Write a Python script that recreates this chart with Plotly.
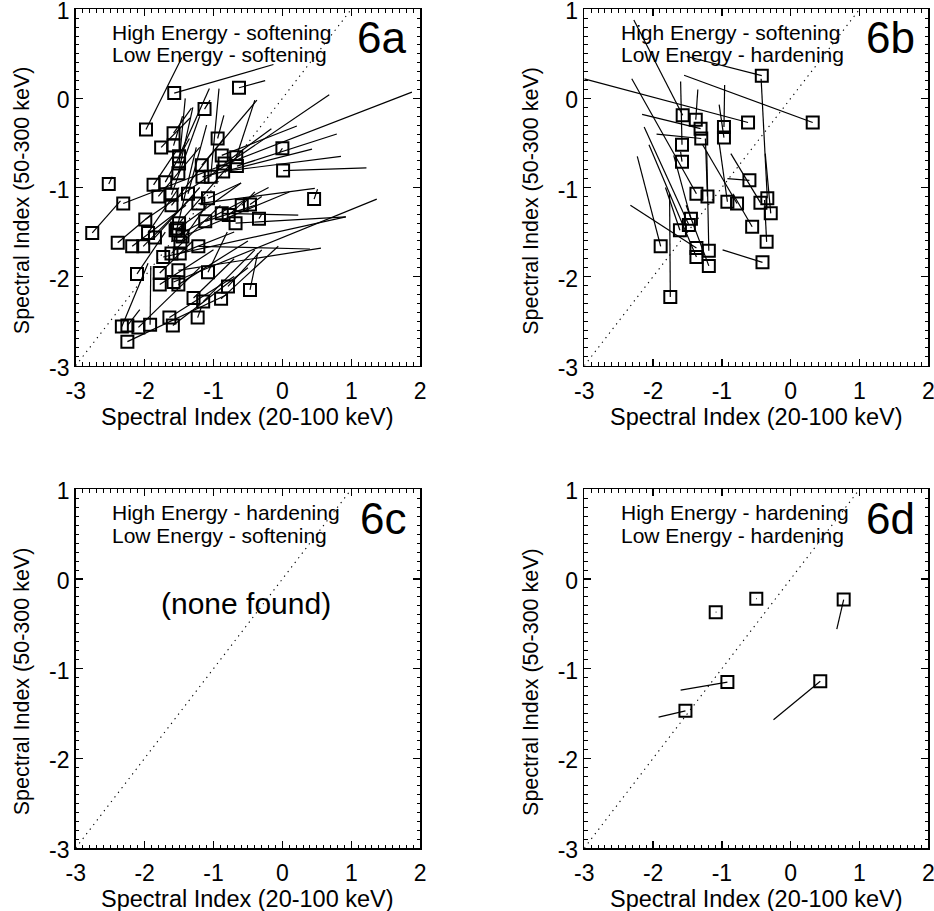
import plotly.graph_objects as go

FONT = "Liberation Sans, Arial, Helvetica, sans-serif"

# ---------------- tick labels & texts ----------------
x_tick_vals = [-3, -2, -1, 0, 1, 2]
x_tick_text = ["-3", "-2", "-1", "0", "1", "2"]
y_tick_vals = [-3, -2, -1, 0, 1]
y_tick_text = ["-3", "-2", "-1", "0", "1"]

panel_labels = ["6a", "6b", "6c", "6d"]
high_labels = ["High Energy - softening", "High Energy - softening",
               "High Energy - hardening", "High Energy - hardening"]
low_labels = ["Low Energy - softening", "Low Energy - hardening",
              "Low Energy - softening", "Low Energy - hardening"]
x_title = "Spectral Index (20-100 keV)"
y_title = "Spectral Index (50-300 keV)"
none_text = "(none found)"

# ---------------- panel 6a data (square = start, line to end) ----------------
a_start_x = [-1.57, -0.63, -1.98, -1.13, -1.58, -0.94, -1.76, -1.58, -1.50, -0.88,
             -0.67, -0.66, -1.50, -1.17, -0.84, -1.51, -1.16, -0.86, -1.04, -1.70,
             -1.87, -2.52, 0.00, 0.01, 0.46, -2.31, -2.76, -1.99, -1.80, -1.61,
             -1.61, -1.37, -1.22, -1.08, -0.88, -0.59, -0.68, -0.78, -0.34, -0.47,
             -1.53, -1.51, -1.85, -1.95, -2.39, -2.18, -2.02, -1.22, -1.73, -1.61,
             -1.49, -2.11, -1.78, -1.51, -1.08, -1.78, -1.58, -1.51, -1.29, -1.15,
             -0.89, -0.79, -0.47, -2.33, -2.25, -2.09, -1.92, -1.64, -1.59, -1.23,
             -2.25, -1.50, -1.45, -1.55, -1.48, -1.12]
a_start_y = [0.06, 0.12, -0.35, -0.12, -0.39, -0.45, -0.55, -0.53, -0.65, -0.64,
             -0.66, -0.76, -0.73, -0.75, -0.73, -0.84, -0.88, -0.82, -0.88, -0.94,
             -0.97, -0.96, -0.56, -0.81, -1.13, -1.18, -1.51, -1.36, -1.10, -1.08,
             -1.20, -1.07, -1.18, -1.12, -1.29, -1.20, -1.40, -1.31, -1.35, -1.19,
             -1.46, -1.53, -1.56, -1.51, -1.62, -1.66, -1.66, -1.66, -1.78, -1.74,
             -1.74, -1.97, -1.96, -1.93, -1.95, -2.09, -2.06, -2.09, -2.24, -2.28,
             -2.25, -2.11, -2.15, -2.56, -2.55, -2.57, -2.54, -2.46, -2.55, -2.46,
             -2.73, -1.40, -1.55, -1.48, -1.62, -1.38]
a_end_x = [-0.13, -0.25, -1.46, -1.05, -1.32, -0.85, -1.34, -1.45, -1.06, 0.21,
           -0.40, 0.79, -1.41, -0.37, -0.16, -1.30, 0.43, 0.85, -0.92, -1.35,
           -1.55, -2.47, -0.05, 1.22, 0.51, 1.88, -2.35, 0.68, -1.20, -1.20,
           -0.85, -1.10, 0.47, -0.60, 0.23, -0.40, 0.92, -0.55, -0.30, -0.30,
           -1.25, -0.20, -1.20, -1.50, -1.90, -1.40, -1.30, 0.40, 0.92, -0.90,
           -0.70, -1.70, -1.30, 0.56, -0.80, -1.00, 1.37, -0.50, -0.70, -0.40,
           -0.06, -0.30, -0.36, -1.95, -2.07, -1.20, -1.91, -0.70, -0.50, -1.18,
           -0.80, -0.60, 0.10, -0.60, -1.10, -0.40]
a_end_y = [0.38, 0.20, 0.46, -0.02, -0.11, -0.19, -0.22, -0.20, 0.11, -0.31,
           -0.02, -0.40, 0.00, -0.02, -0.34, -0.10, -0.57, -0.65, 0.11, -0.45,
           -0.60, -0.88, -0.62, -0.78, -1.02, 0.07, -1.15, 0.04, -0.55, -0.20,
           -0.45, -0.30, -1.01, -0.95, -1.31, -1.05, -1.33, -1.15, -1.30, -1.10,
           -0.55, -1.00, -1.00, -1.00, -1.30, -1.20, -1.10, -1.69, -1.33, -1.20,
           -1.50, -1.50, -1.60, -1.68, -1.50, -1.70, -1.13, -1.60, -1.80, -1.70,
           -1.66, -1.70, -1.74, -1.85, -2.37, -1.90, -1.88, -2.00, -1.90, -2.35,
           -2.20, -0.60, -1.05, -0.95, -1.20, -1.20]

# ---------------- panel 6b data ----------------
b_start_x = [-0.42, 0.32, -0.62, -1.57, -1.38, -1.31, -1.30, -0.97, -0.97, -1.58,
             -1.58, -1.37, -1.21, -0.92, -0.78, -0.60, -0.56, -0.44, -0.29, -0.35,
             -0.41, -0.34, -1.45, -1.48, -1.61, -1.89, -1.37, -1.37, -1.19, -1.19,
             -1.75]
b_start_y = [0.255, -0.27, -0.27, -0.19, -0.24, -0.34, -0.45, -0.32, -0.44, -0.52,
             -0.71, -1.07, -1.10, -1.16, -1.18, -0.92, -1.44, -1.17, -1.29, -1.61,
             -1.84, -1.12, -1.35, -1.42, -1.48, -1.66, -1.68, -1.78, -1.71, -1.88,
             -2.23]
b_end_x = [-1.51, -1.55, -3.00, -2.28, -1.35, -2.16, -1.95, -0.96, -1.04, -1.60,
           -1.60, -2.31, -1.24, -1.04, -1.28, -0.92, -0.84, -0.87, -0.37, -0.38,
           -0.99, -0.43, -1.70, -2.13, -1.82, -2.23, -2.33, -2.06, -1.22, -1.52,
           -1.76]
b_end_y = [0.47, 0.26, 0.22, 0.88, 0.10, -0.18, -0.40, 0.15, -0.07, 0.19,
           -0.60, 0.22, -0.45, -0.50, -0.52, -0.90, -1.07, -0.62, -0.62, -1.14,
           -1.70, 0.22, -0.64, -0.32, -1.00, -0.65, -1.20, -0.52, -0.60, -1.20,
           -1.07]

# ---------------- panel 6c data (none found) ----------------
c_start_x, c_start_y, c_end_x, c_end_y = [], [], [], []

# ---------------- panel 6d data ----------------
d_start_x = [-1.09, -0.50, 0.77, -0.92, -1.53, 0.43]
d_start_y = [-0.37, -0.22, -0.23, -1.15, -1.47, -1.14]
d_end_x = [-1.08, -0.49, 0.67, -1.60, -1.92, -0.25]
d_end_y = [-0.37, -0.22, -0.56, -1.24, -1.54, -1.57]

panels = [
    (a_start_x, a_start_y, a_end_x, a_end_y),
    (b_start_x, b_start_y, b_end_x, b_end_y),
    (c_start_x, c_start_y, c_end_x, c_end_y),
    (d_start_x, d_start_y, d_end_x, d_end_y),
]

# ---------------- layout geometry (page pixels) ----------------
W, H = 934, 911
col_px = [(75.7, 420.2), (584.3, 928.3)]
row_px = [(9.3, 365.7), (489.3, 848.0)]


def fx(p):
    return p / W


def fy(p):
    return 1 - p / H


fig = go.Figure()


def segments(x0, y0, x1, y1):
    xs, ys = [], []
    for a, b, c, d in zip(x0, y0, x1, y1):
        xs += [a, c, None]
        ys += [b, d, None]
    return xs, ys


def ax_id(letter, k):
    return letter if k == 1 else f"{letter}{k}"


def ax_key(letter, k):
    return f"{letter}axis" if k == 1 else f"{letter}axis{k}"


x_minor = [round(-3 + 0.1 * k, 1) for k in range(51) if k % 10 != 0]
y_minor = [round(-3 + 0.1 * k, 1) for k in range(41) if k % 10 != 0]

MAJOR_LEN, MINOR_LEN = 7, 3.5
layout_axes = {}

for i, (sx, sy, ex, ey) in enumerate(panels):
    n = i + 1
    xa, ya = ax_id("x", n), ax_id("y", n)
    # diagonal y = x
    fig.add_trace(go.Scatter(x=[-3, 1], y=[-3, 1], mode="lines",
                             line=dict(color="black", width=1.1, dash="1.3px,4.5px"),
                             xaxis=xa, yaxis=ya, showlegend=False, hoverinfo="skip"))
    if sx:
        lx, ly = segments(sx, sy, ex, ey)
        fig.add_trace(go.Scatter(x=lx, y=ly, mode="lines",
                                 line=dict(color="black", width=1.2),
                                 xaxis=xa, yaxis=ya, showlegend=False))
        fig.add_trace(go.Scatter(x=sx, y=sy, mode="markers",
                                 marker=dict(symbol="square-open", size=12, color="black",
                                             line=dict(width=2, color="black")),
                                 xaxis=xa, yaxis=ya, showlegend=False))

    c, r = i % 2, i // 2
    xd = [fx(col_px[c][0]), fx(col_px[c][1])]
    yd = [fy(row_px[r][1]), fy(row_px[r][0])]

    base = dict(showgrid=False, zeroline=False, automargin=False, ticks="inside",
                tickcolor="black", fixedrange=True)
    layout_axes[ax_key("x", n)] = dict(
        base, domain=xd, range=[-3, 2], anchor=ya, side="bottom",
        showline=True, linecolor="black", linewidth=1.6, mirror=True,
        tickmode="array", tickvals=x_tick_vals, ticktext=x_tick_text,
        ticklen=MAJOR_LEN, tickwidth=1.3, ticklabelstandoff=4, ticklabeloverflow="allow",
        tickfont=dict(family=FONT, size=23, color="black"))
    layout_axes[ax_key("y", n)] = dict(
        base, domain=yd, range=[-3, 1], anchor=xa, side="left",
        showline=True, linecolor="black", linewidth=1.6, mirror=True,
        tickmode="array", tickvals=y_tick_vals, ticktext=y_tick_text,
        ticklen=MAJOR_LEN, tickwidth=1.3, ticklabeloverflow="allow", ticklabelshift=2,
        tickfont=dict(family=FONT, size=23, color="black"))

    # overlay axes that carry minor ticks and the mirrored ticks on top / right
    extras = [("bottom", x_minor, MINOR_LEN, 1.0), ("top", x_tick_vals, MAJOR_LEN, 1.3),
              ("top", x_minor, MINOR_LEN, 1.0)]
    for j, (side, vals, ln, wd) in enumerate(extras):
        k = 5 + 3 * i + j
        layout_axes[ax_key("x", k)] = dict(
            base, domain=xd, range=[-3, 2], overlaying=xa, anchor=ya, side=side,
            showline=False, showticklabels=False, tickmode="array", tickvals=vals,
            ticklen=ln, tickwidth=wd)
        fig.add_trace(go.Scatter(x=[-10], y=[-10], mode="markers", marker=dict(opacity=0),
                                 xaxis=ax_id("x", k), yaxis=ya, showlegend=False,
                                 hoverinfo="skip"))
    extras_y = [("left", y_minor, MINOR_LEN, 1.0), ("right", y_tick_vals, MAJOR_LEN, 1.3),
                ("right", y_minor, MINOR_LEN, 1.0)]
    for j, (side, vals, ln, wd) in enumerate(extras_y):
        k = 5 + 3 * i + j
        layout_axes[ax_key("y", k)] = dict(
            base, domain=yd, range=[-3, 1], overlaying=ya, anchor=xa, side=side,
            showline=False, showticklabels=False, tickmode="array", tickvals=vals,
            ticklen=ln, tickwidth=wd)
        fig.add_trace(go.Scatter(x=[-10], y=[-10], mode="markers", marker=dict(opacity=0),
                                 xaxis=xa, yaxis=ax_id("y", k), showlegend=False,
                                 hoverinfo="skip"))

annotations = []
for i in range(4):
    n = i + 1
    xr, yr = ax_id("x", n), ax_id("y", n)
    annotations.append(dict(x=-2.5, y=0.745, xref=xr, yref=yr, text=high_labels[i],
                            showarrow=False, xanchor="left", yanchor="middle",
                            font=dict(family=FONT, size=21, color="black")))
    annotations.append(dict(x=-2.5, y=0.49, xref=xr, yref=yr, text=low_labels[i],
                            showarrow=False, xanchor="left", yanchor="middle",
                            font=dict(family=FONT, size=21, color="black")))
    annotations.append(dict(x=1.83, y=0.68, xref=xr, yref=yr, text=panel_labels[i],
                            showarrow=False, xanchor="right", yanchor="middle",
                            font=dict(family=FONT, size=44, color="black")))
    c, r = i % 2, i // 2
    x0p, x1p = col_px[c]
    ytop, ybot = row_px[r]
    annotations.append(dict(x=fx((x0p + x1p) / 2), y=fy(ybot + 51), xref="paper", yref="paper",
                            text=x_title, showarrow=False, xanchor="center", yanchor="middle",
                            font=dict(family=FONT, size=23.5, color="black")))
    annotations.append(dict(x=fx(x0p - 54), y=fy((ytop + ybot) / 2 + 13), xref="paper", yref="paper",
                            text=y_title, showarrow=False, textangle=-90,
                            xanchor="center", yanchor="middle",
                            font=dict(family=FONT, size=21.5, color="black")))

annotations.append(dict(x=-0.53, y=-0.27, xref="x3", yref="y3", text=none_text, showarrow=False,
                        xanchor="center", yanchor="middle",
                        font=dict(family=FONT, size=30, color="black")))

fig.update_layout(
    template="none",
    width=W, height=H,
    margin=dict(l=0, r=0, t=0, b=0, pad=0, autoexpand=False),
    paper_bgcolor="white", plot_bgcolor="white",
    showlegend=False,
    hovermode=False,
    annotations=annotations,
    **layout_axes,
)

# the page's default 8px body margin would shift the 934x911 figure; remove it
fig.write_html("out.html", config={"displayModeBar": False, "staticPlot": True},
               post_script="document.body.style.margin='0';document.body.style.overflow='hidden';")
